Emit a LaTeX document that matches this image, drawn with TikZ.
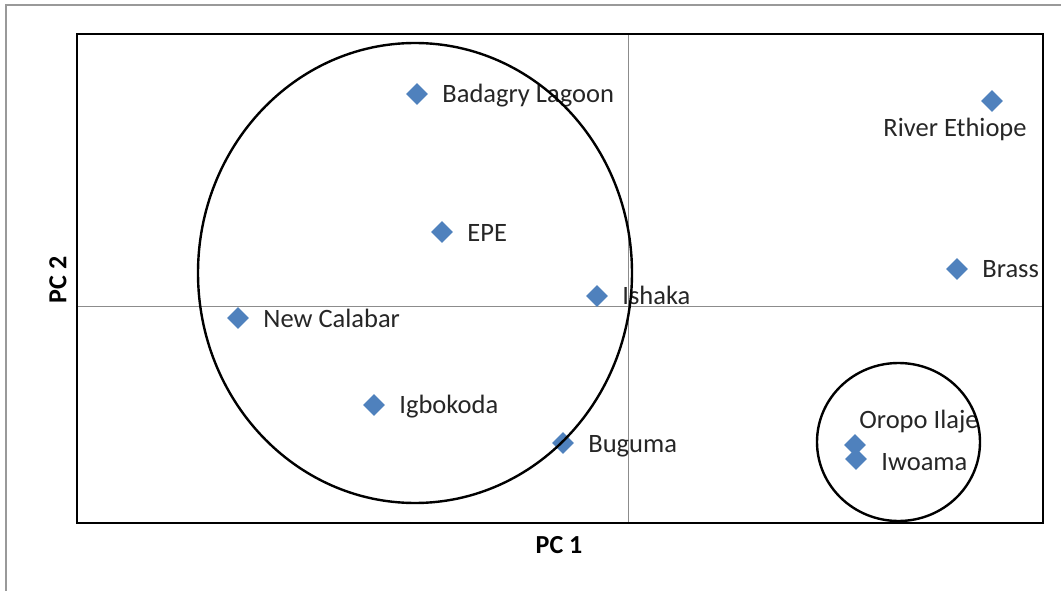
\documentclass[tikz,border=0pt]{standalone}
\usepackage{fontspec}
\setmainfont{Carlito}
\usetikzlibrary{shapes.geometric,positioning}
\definecolor{markblue}{HTML}{4F81BD}
\tikzset{
  pt/.style={diamond,fill=markblue,draw=none,minimum size=22pt,inner sep=0pt},
  lbl/.style={anchor=base west,inner sep=0pt,text=black!85,font=\fontsize{26.5}{30}\selectfont},
  axlbl/.style={inner sep=0pt,font=\fontsize{26}{30}\selectfont\bfseries},
  ring/.style={line width=2.4pt,black}
}
\begin{document}
\begin{tikzpicture}[x=1pt, y=-1pt]
\useasboundingbox (0,0) rectangle (1061,591);

% outer frame
\draw[line width=2pt,black!40] (6,591) -- (6,5) -- (1061,5);

% plot area and axes
\draw[line width=1.2pt,black!45] (77,306.5) -- (1043,306.5);
\draw[line width=1.2pt,black!45] (628.5,34) -- (628.5,523);
\draw[line width=2.4pt] (77,34) rectangle (1043,523);

% sites
\node[pt] (badagry) at (417,94) {};
\node[pt] (ethiope) at (992,101) {};
\node[pt] (epe) at (442,232) {};
\node[pt] (brass) at (957,269) {};
\node[pt] (ishaka) at (597,296) {};
\node[pt] (calabar) at (238,318) {};
\node[pt] (igbokoda) at (374,405) {};
\node[pt] (buguma) at (563,443) {};
\node[pt] (oropo) at (855,445) {};
\node[pt] (iwoama) at (856,459) {};

\node[lbl] (badagrytxt) at ([shift={(14,9)}]badagry.east) {Badagry Lagoon};
\node[lbl,anchor=base] (ethiopetxt) at ([shift={(-37,36)}]ethiope.center) {River Ethiope};
\node[lbl] (epetxt) at ([shift={(14,9)}]epe.east) {EPE};
\node[lbl] (brasstxt) at ([shift={(14,8)}]brass.east) {Brass};
\node[lbl] (ishakatxt) at ([shift={(14,8)}]ishaka.east) {Ishaka};
\node[lbl] (calabartxt) at ([shift={(14,9)}]calabar.east) {New Calabar};
\node[lbl] (igbokodatxt) at ([shift={(14,8)}]igbokoda.east) {Igbokoda};
\node[lbl] (bugumatxt) at ([shift={(14,9)}]buguma.east) {Buguma};
\node[lbl] (oropotxt) at ([shift={(-7,-17)}]oropo.east) {Oropo Ilaje};
\node[lbl] (iwoamatxt) at ([shift={(14,11)}]iwoama.east) {Iwoama};

% groups
\draw[ring] (415,273) ellipse [x radius=217, y radius=230];
\draw[ring] (898.5,442) ellipse [x radius=81.5, y radius=79];

% axis titles
\node[axlbl,anchor=base] (pc1) at (559,553) {PC 1};
\node[axlbl,rotate=90] (pc2) at (58,280) {PC 2};

\end{tikzpicture}
\end{document}
